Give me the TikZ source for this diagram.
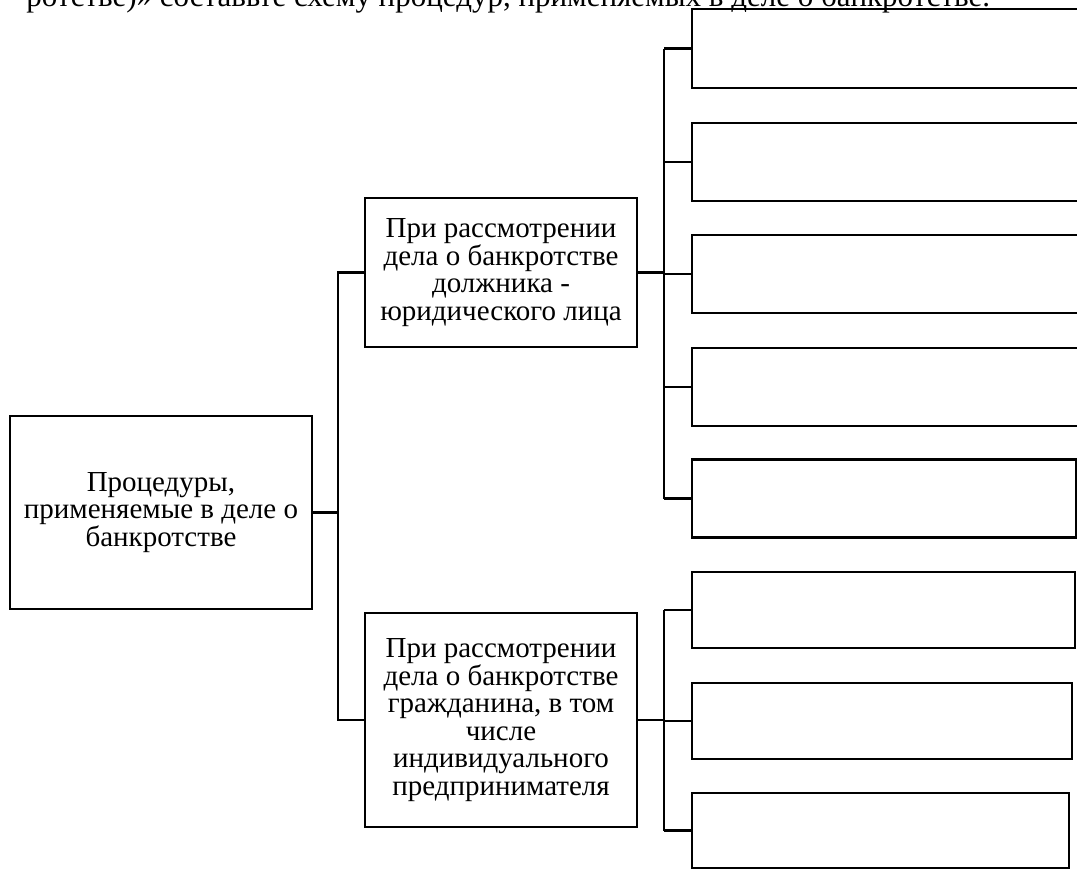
\documentclass[tikz,border=0pt]{standalone}
\usepackage{fontspec}
\setmainfont{Liberation Serif}
\begin{document}
\begin{tikzpicture}[x=1pt,y=-1pt,
  every node/.style={inner sep=0pt,outer sep=0pt},
  txt/.style={font=\fontsize{29}{27.5}\selectfont},
  box/.style={draw,line width=2.6pt,rectangle,align=center,txt},
  conn/.style={line width=2.6pt}]
\useasboundingbox (0,0) rectangle (1077,870);
\clip (0,0) rectangle (1077,870);
% caption (cut off at the top)
\node[font=\fontsize{31}{34}\selectfont,anchor=base east] (cap) at (990,6) {ротстве)» составьте схему процедур, применяемых в деле о банкротстве.};
% boxes
\node[box,minimum width=302pt,minimum height=193pt] (root) at (161,512.5) {Процедуры,\\применяемые в деле о\\банкротстве};
\node[box,minimum width=272pt,minimum height=149pt] (m1) at (501,272.5) {При рассмотрении\\дела о банкротстве\\должника -\\юридического лица};
\node[box,minimum width=272pt,minimum height=214pt] (m2) at (501,720) {При рассмотрении\\дела о банкротстве\\гражданина, в том\\числе\\индивидуального\\предпринимателя};
\node[box,minimum width=420pt,minimum height=79pt] (r1) at (902,48.5) {};
\node[box,minimum width=420pt,minimum height=78pt] (r2) at (902,162) {};
\node[box,minimum width=420pt,minimum height=78pt] (r3) at (902,274) {};
\node[box,minimum width=420pt,minimum height=78pt] (r4) at (902,387) {};
\node[box,minimum width=384pt,minimum height=78pt] (r5) at (884,498.5) {};
\node[box,minimum width=383pt,minimum height=76pt] (s1) at (883.5,610) {};
\node[box,minimum width=380pt,minimum height=76pt] (s2) at (882,721) {};
\node[box,minimum width=377pt,minimum height=75pt] (s3) at (880.5,830.5) {};
% junctions
\coordinate (t) at (338,512.5);
\coordinate (b1) at (664,272.5);
\coordinate (b2) at (664,720);
% connectors
\draw[conn] (root.east) -- (t);
\draw[conn] (m1.west) -| (t) |- (m2.west);
\draw[conn] (m1.east) -- (b1);
\draw[conn] (b1 |- r1.west) -- (b1 |- r5.west);
\foreach \r in {r1,r2,r3,r4,r5} \draw[conn] (b1 |- \r.west) -- (\r.west);
\draw[conn] (m2.east) -- (b2);
\draw[conn] (b2 |- s1.west) -- (b2 |- s3.west);
\foreach \r in {s1,s2,s3} \draw[conn] (b2 |- \r.west) -- (\r.west);
\end{tikzpicture}
\end{document}
